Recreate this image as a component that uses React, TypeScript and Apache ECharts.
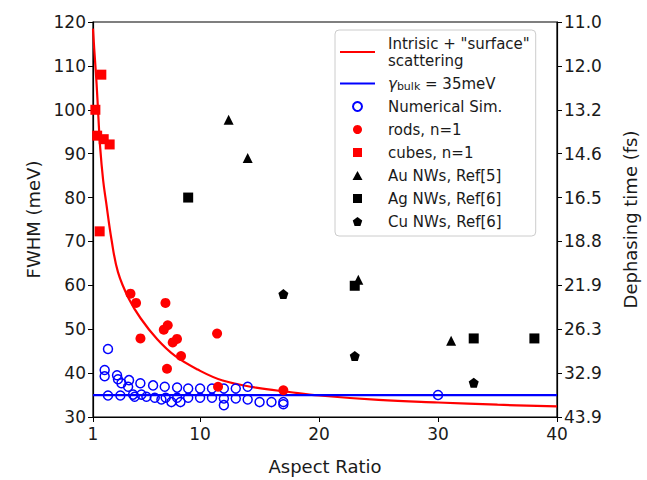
import React, { useEffect, useRef } from 'react';
import * as echarts from 'echarts';

const xTicks = [1, 10, 20, 30, 40];
const yTicks = [30, 40, 50, 60, 70, 80, 90, 100, 110, 120];
const rightTickLabels = ['43.9', '32.9', '26.3', '21.9', '18.8', '16.5', '14.6', '13.2', '12.0', '11.0'];

const curveX = [1, 1.1, 1.3, 1.45, 1.6, 1.85, 2.1, 2.55, 3.1, 4, 5, 6.4, 7.9, 9.8, 11.9, 14.7, 17.5, 20, 25, 30, 35, 40];
const curveY = [118.5, 114, 106, 98.5, 91.5, 84, 79, 70.5, 63, 57, 52.5, 47.7, 43.9, 40.8, 38.3, 36.7, 35.7, 34.9, 33.9, 33.3, 32.8, 32.4];

const bulkX = [1, 40];
const bulkY = [35, 35];

const simX = [2.26, 1.98, 1.98, 2.26, 3.02, 3.1, 3.39, 3.3, 4.03, 3.95, 4.37, 4.5, 4.98, 5.07, 5.49, 6.05, 6.19, 6.75, 7.03, 7.11, 7.59, 8.07, 8.07, 8.35, 9, 9, 10, 10, 11, 11, 12, 12, 12, 13, 13, 14, 14, 15, 16, 17, 17, 30];
const simY = [45.5, 40.7, 39.3, 34.9, 39.5, 38.6, 37.7, 34.9, 38.4, 36.9, 35.1, 34.6, 37.7, 35.1, 34.6, 37.2, 34.4, 34.0, 36.9, 34.4, 33.4, 36.7, 34.4, 33.4, 36.5, 34.4, 36.5, 34.4, 36.5, 34.4, 36.5, 34.2, 32.7, 36.5, 34.2, 36.9, 34.0, 33.4, 33.4, 33.4, 32.9, 35.0];

const rodsX = [4.15, 4.62, 7.09, 4.99, 7.28, 6.95, 8.06, 7.7, 8.4, 7.22, 11.43, 11.51, 17.0];
const rodsY = [58.1, 56.0, 56.0, 47.9, 50.9, 49.9, 47.8, 47.0, 43.9, 41.0, 49.0, 36.9, 36.1];

const cubesX = [1.2, 1.7, 1.35, 1.9, 2.4, 1.56];
const cubesY = [100, 108, 94.1, 93.3, 92.1, 72.3];

const auX = [12.4, 14.0, 23.3, 31.1];
const auY = [97.7, 89.0, 61.3, 47.4];

const agX = [9.0, 23.0, 33.0, 38.1];
const agY = [80.0, 59.9, 47.9, 47.9];

const cuX = [17.0, 23.0, 33.0];
const cuY = [58.0, 43.9, 37.8];

const zip = (xs: number[], ys: number[]) => xs.map((x, i) => [x, ys[i]]);

const curveName = 'Intrisic + "surface"\nscattering';
const bulkName = 'γbulk = 35meV';
const FONT = 'DejaVu Sans';
const TXT = '#1a1a1a';

const pentagon = 'path://M0,-1 L0.951,-0.309 L0.588,0.809 L-0.588,0.809 L-0.951,-0.309 Z';
const squarePath = 'path://M0,0 L1,0 L1,1 L0,1 Z';
const trianglePath = 'path://M0.5,0 L1,0.9 L0,0.9 Z';
const linePath = 'path://M0,0 L35,0 L35,2.2 L0,2.2 Z';

export default function App() {
  const ref = useRef<HTMLDivElement>(null);
  useEffect(() => {
    if (!ref.current) return;
    const chart = echarts.init(ref.current, undefined, { renderer: 'svg' });
    chart.setOption({
      animation: false,
      backgroundColor: '#fff',
      textStyle: { fontFamily: FONT },
      grid: {
        left: 93,
        right: 90,
        top: 22,
        bottom: 62,
        show: true,
        borderColor: '#000',
        borderWidth: 1.2,
        backgroundColor: 'transparent',
      },
      legend: {
        orient: 'vertical',
        left: 335,
        top: 30,
        padding: [5, 6, 6, 5],
        itemGap: 6,
        itemWidth: 35,
        itemHeight: 9,
        backgroundColor: '#fff',
        borderColor: '#ccc',
        borderWidth: 1,
        borderRadius: 4,
        textStyle: {
          fontFamily: FONT,
          fontSize: 15,
          lineHeight: 17,
          color: TXT,
          padding: [0, 0, 0, 8],
          rich: {
            i: { fontFamily: FONT, fontSize: 15, fontStyle: 'italic', color: TXT },
            s: { fontFamily: FONT, fontSize: 11, color: TXT, padding: [6, 0, 0, 0] },
            n: { fontFamily: FONT, fontSize: 15, color: TXT },
          },
        },
        formatter: (name: string) => (name === bulkName ? '{i|γ}{s|bulk}{n| = 35meV}' : name),
        data: [
          { name: curveName, icon: linePath },
          { name: bulkName, icon: linePath },
          { name: 'Numerical Sim.', icon: 'circle' },
          { name: 'rods, n=1', icon: 'circle' },
          { name: 'cubes, n=1', icon: squarePath },
          { name: 'Au NWs, Ref[5]', icon: trianglePath },
          { name: 'Ag NWs, Ref[6]', icon: squarePath },
          { name: 'Cu NWs, Ref[6]', icon: pentagon },
        ],
      },
      xAxis: {
        type: 'value',
        min: 1,
        max: 40,
        name: 'Aspect Ratio',
        nameLocation: 'middle',
        nameGap: 40,
        nameTextStyle: { fontFamily: FONT, fontSize: 18, color: TXT },
        axisLine: { lineStyle: { color: '#000', width: 1.2 } },
        axisTick: { show: true, length: 5, lineStyle: { color: '#000' }, customValues: xTicks },
        axisLabel: { fontFamily: FONT, fontSize: 17, color: TXT, margin: 8, customValues: xTicks },
        splitLine: { show: false },
      },
      yAxis: [
        {
          type: 'value',
          min: 30,
          max: 120,
          interval: 10,
          name: 'FWHM (meV)',
          nameLocation: 'middle',
          nameRotate: 90,
          nameGap: 50,
          nameTextStyle: { fontFamily: FONT, fontSize: 18, color: TXT },
          axisLine: { show: true, lineStyle: { color: '#000', width: 1.2 } },
          axisTick: { show: true, length: 5, lineStyle: { color: '#000' } },
          axisLabel: { fontFamily: FONT, fontSize: 17, color: TXT, margin: 7 },
          splitLine: { show: false },
        },
        {
          type: 'value',
          min: 30,
          max: 120,
          interval: 10,
          position: 'right',
          name: 'Dephasing time (fs)',
          nameLocation: 'middle',
          nameRotate: 90,
          nameGap: 64,
          nameTextStyle: { fontFamily: FONT, fontSize: 18, color: TXT },
          axisLine: { show: true, lineStyle: { color: '#000', width: 1.2 } },
          axisTick: { show: true, length: 5, lineStyle: { color: '#000' } },
          axisLabel: {
            fontFamily: FONT,
            fontSize: 17,
            color: TXT,
            margin: 7,
            formatter: (v: number) => rightTickLabels[yTicks.indexOf(Math.round(v))] ?? '',
          },
          splitLine: { show: false },
        },
      ],
      series: [
        {
          name: curveName,
          type: 'line',
          data: zip(curveX, curveY),
          smooth: 0.4,
          symbol: 'none',
          lineStyle: { color: '#ff0000', width: 2.2 },
          itemStyle: { color: '#ff0000' },
          z: 3,
        },
        {
          name: bulkName,
          type: 'line',
          data: zip(bulkX, bulkY),
          symbol: 'none',
          lineStyle: { color: '#0000ff', width: 2.2 },
          itemStyle: { color: '#0000ff' },
          z: 4,
        },
        {
          name: 'Numerical Sim.',
          type: 'scatter',
          data: zip(simX, simY),
          symbol: 'circle',
          symbolSize: 9,
          itemStyle: { color: 'rgba(0,0,0,0)', borderColor: '#0000ff', borderWidth: 1.5, opacity: 1 },
          z: 5,
        },
        {
          name: 'rods, n=1',
          type: 'scatter',
          data: zip(rodsX, rodsY),
          symbol: 'circle',
          symbolSize: 10,
          itemStyle: { color: '#ff0000', opacity: 1 },
          z: 5,
        },
        {
          name: 'cubes, n=1',
          type: 'scatter',
          data: zip(cubesX, cubesY),
          symbol: 'rect',
          symbolSize: 10,
          itemStyle: { color: '#ff0000', opacity: 1 },
          z: 5,
        },
        {
          name: 'Au NWs, Ref[5]',
          type: 'scatter',
          data: zip(auX, auY),
          symbol: 'triangle',
          symbolSize: 10,
          itemStyle: { color: '#000', opacity: 1 },
          z: 5,
        },
        {
          name: 'Ag NWs, Ref[6]',
          type: 'scatter',
          data: zip(agX, agY),
          symbol: 'rect',
          symbolSize: 10,
          itemStyle: { color: '#000', opacity: 1 },
          z: 5,
        },
        {
          name: 'Cu NWs, Ref[6]',
          type: 'scatter',
          data: zip(cuX, cuY),
          symbol: pentagon,
          symbolSize: 10,
          itemStyle: { color: '#000', opacity: 1 },
          z: 5,
        },
      ],
    });
    return () => chart.dispose();
  }, []);
  return (
    <div
      ref={ref}
      style={{ position: 'absolute', left: 0, top: 0, width: 647, height: 480 }}
    />
  );
}
